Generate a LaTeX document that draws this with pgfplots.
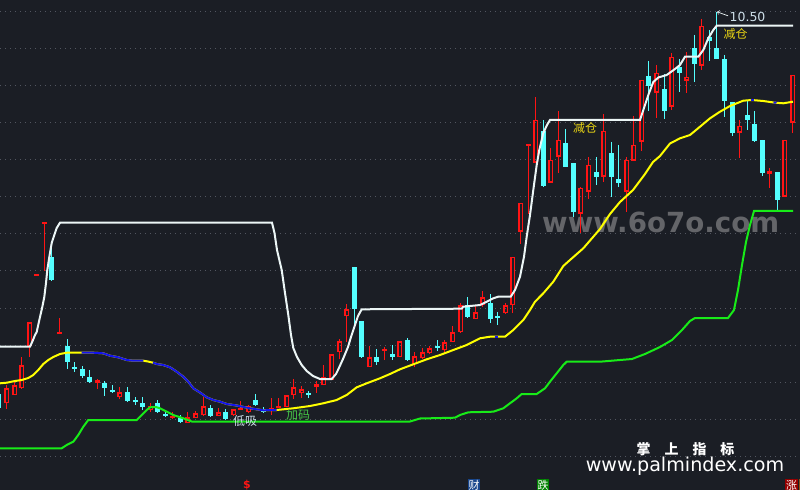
\documentclass[border=0pt]{standalone}
\usepackage{fontspec}
\setmainfont{DejaVu Sans}
\newfontfamily\cjk{Noto Sans CJK SC}
\usepackage{pgfplots}
\pgfplotsset{compat=1.18}
\usepackage{pgfplotstable}

\definecolor{chartbg}{RGB}{27,30,37}
\definecolor{cred}{RGB}{255,20,20}
\definecolor{ccyan}{RGB}{84,255,255}
\definecolor{cwhite}{RGB}{236,246,246}
\definecolor{cyellow}{RGB}{255,255,0}
\definecolor{cblue}{RGB}{20,20,235}
\definecolor{cgreen}{RGB}{24,235,24}
\definecolor{gridc}{RGB}{82,86,96}
\definecolor{wm}{RGB}{100,101,105}
\definecolor{txty}{RGB}{232,212,20}
\definecolor{txtg}{RGB}{70,200,70}
\definecolor{txtw}{RGB}{205,222,232}
\definecolor{boxblue}{RGB}{24,70,140}
\definecolor{boxgreen}{RGB}{0,130,0}
\definecolor{boxred}{RGB}{150,0,0}
\definecolor{boxbrown}{RGB}{140,80,20}

% up candles (hollow red): x, body top, body bottom, high, low (pixel rows)
\pgfplotstableread{
x bt bb h l
6.5 388 403 385 409
14.5 385 395 380 395
21.5 365 388 357 389
29.5 322 346 322 357
36.5 275 276 275 276
44.5 223 224 223 271
59.5 332 333 318 333
97.5 380 383 379 389
119.5 392 397 387 399
150.5 406 410 403 412
172.5 416 417 412 419
187.5 417 423 412 423
195.5 413 418 411 418
203.5 406 415 397 416
218.5 412 416 408 416
233.5 409 415 409 416
240.5 408 409 401 409
248.5 406 412 405 413
271.5 408 411 398 415
278.5 406 407 398 407
286.5 395 407 395 407
293.5 387 395 379 399
301.5 389 393 386 398
316.5 384 387 381 393
323.5 377 385 365 385
331.5 354 380 354 380
339.5 341 352 339 359
346.5 309 316 304 342
369.5 357 367 346 367
384.5 349 350 347 360
399.5 341 357 341 357
414.5 356 364 352 367
422.5 352 358 348 359
429.5 348 353 346 354
444.5 342 350 340 352
452.5 332 342 326 342
460.5 305 332 303 333
475.5 312 319 305 319
482.5 297 305 291 307
505.5 305 313 303 314
512.5 257 305 257 313
520.5 203 232 203 244
528.5 145 146 145 214
535.5 120 163 97 163
550.5 160 183 148 183
558.5 140 157 111 173
580.5 188 214 187 233
588.5 165 192 157 199
603.5 131 177 114 182
626.5 160 192 157 212
633.5 145 161 116 161
641.5 80 142 80 151
656.5 73 93 65 118
671.5 57 107 53 110
686.5 77 81 52 93
701.5 26 66 19 70
739.5 126 133 120 158
769.5 171 174 168 188
784.5 140 197 140 197
792.5 75 123 75 133
}\redtab

% down candles (filled cyan)
\pgfplotstableread{
x bt bb h l
-1.5 394 408 392 410
51.5 257 280 242 281
67.5 346 362 339 369
74.5 367 369 362 372
82.5 369 376 366 378
89.5 377 382 370 383
104.5 383 388 381 396
112.5 390 391 385 393
127.5 392 401 387 402
135.5 400 402 397 405
142.5 403 407 397 410
157.5 403 412 400 413
165.5 414 416 411 417
180.5 418 422 415 423
210.5 408 416 405 417
225.5 412 419 409 420
255.5 400 405 394 406
263.5 409 412 407 413
308.5 393 394 391 398
354.5 267 309 267 325
361.5 321 357 321 358
376.5 357 362 349 365
392.5 354 357 345 360
407.5 340 360 338 361
437.5 346 347 340 351
467.5 305 317 297 318
490.5 303 319 294 323
497.5 316 317 312 325
543.5 131 186 120 187
565.5 143 167 129 167
573.5 163 212 163 217
596.5 172 177 157 185
611.5 153 177 142 197
618.5 179 183 145 187
648.5 76 86 61 111
664.5 89 111 74 119
679.5 67 73 59 92
694.5 48 64 35 82
709.5 37 41 30 61
716.5 48 59 12 59
724.5 59 101 55 117
732.5 102 133 102 136
747.5 115 120 100 130
754.5 124 141 111 142
762.5 140 173 140 176
777.5 172 200 172 210
}\cyantab

\pgfplotsset{
  vbar/.style 2 args={draw=none, error bars/.cd, y dir=both, y explicit, error mark=none,
    error bar style={draw=#1, line width=#2}},
  hbar/.style 2 args={draw=none, error bars/.cd, x dir=both, x explicit, error mark=none,
    error bar style={draw=#1, line width=#2}},
}

\begin{document}
\begin{tikzpicture}
\begin{axis}[
  scale only axis, width=800bp, height=490bp,
  xmin=0, xmax=800, ymin=0, ymax=490, y dir=reverse,
  axis line style={draw=none},
  xtick=\empty,
  ytick={11.3,48.4,85.5,122.5,159.6,196.7,233.8,270.9,308,345,382.1,419.2,456.3},
  yticklabels={},
  tick style={draw=none},
  ymajorgrids,
  major grid style={gridc, line width=1bp, dash pattern=on 1bp off 4bp},
  axis background/.style={fill=chartbg},
]
% watermark
\node[anchor=base west, inner sep=0pt, text=wm, font=\fontsize{27.8}{28}\selectfont\bfseries] at (axis cs:542,233) {www.6o7o.com};

% red upper and lower wicks
\addplot[vbar={cred}{1.1bp}] table[x=x, y=h, y error plus expr={\thisrow{bt}-\thisrow{h}}, y error minus expr={0}] \redtab;
\addplot[vbar={cred}{1.1bp}] table[x=x, y=bb, y error plus expr={\thisrow{l}-\thisrow{bb}}, y error minus expr={0}] \redtab;
% red hollow bodies: left, right, top, bottom edges
\addplot[vbar={cred}{1.5bp}] table[x expr={\thisrow{x}-1.75}, y=bt, y error plus expr={\thisrow{bb}-\thisrow{bt}}, y error minus expr={0}] \redtab;
\addplot[vbar={cred}{1.5bp}] table[x expr={\thisrow{x}+1.75}, y=bt, y error plus expr={\thisrow{bb}-\thisrow{bt}}, y error minus expr={0}] \redtab;
\addplot[hbar={cred}{1.5bp}] table[x=x, y expr={\thisrow{bt}+0.75}, x error expr={2.5}] \redtab;
\addplot[hbar={cred}{1.5bp}] table[x=x, y expr={\thisrow{bb}-0.75}, x error expr={2.5}] \redtab;

% cyan wicks
\addplot[vbar={ccyan}{1.1bp}] table[x=x, y=h, y error plus expr={\thisrow{l}-\thisrow{h}}, y error minus expr={0}] \cyantab;
% cyan bodies
\addplot[vbar={ccyan}{5bp}]
  table[x=x, y expr={(\thisrow{bt}+\thisrow{bb})/2}, y error expr={(\thisrow{bb}-\thisrow{bt})/2}] \cyantab;

% green support line
\addplot[cgreen, line width=2bp] coordinates {
(0,448.3) (61.7,448.3) (66.7,445) (73.3,441.7) (78.3,435) (83.3,426.7) (88.3,420) (136.7,420)
(141.7,415) (146.7,410) (150,407.3) (156,407) (160,408.3) (166.7,411.7) (173.3,415) (183.3,418.3)
(191.7,421.5) (410,421.5) (420,418.5) (455,417.7) (460,415) (468.3,412.3) (493.3,411.7) (503.3,408.3)
(510,403.3) (516.7,398.3) (521.7,394) (536.7,394) (545,388.3) (550,381.7) (556.7,373.3) (563.3,365)
(566.7,361.7) (600,361.7) (632,359) (645,354) (660,347) (672,340) (682,330) (690,321) (695,318)
(728,318) (734,310) (738,290) (742,265) (746,242) (750,225) (754,211) (793,211)};

% white resistance line
\addplot[cwhite, line width=2bp] coordinates {
(0,346.7) (30,346.7) (31.7,343) (33,340) (35,335) (36.7,332) (38,326) (40,317) (42.3,307) (44.3,297)
(46,283) (47.3,270) (49.3,257) (51.7,243) (54.3,235) (56.7,228) (60,222.7) (272,222.7) (274.5,233)
(277,250) (281.7,270) (285,293) (288.3,315) (291,335) (293.3,348) (297,357) (301.7,365) (306.7,371)
(313,376) (320,379) (331.7,379) (336,374) (338,370) (343,359) (348,347) (351,337) (355,325) (358,316)
(361.7,309.3) (461.7,308.7) (463.3,306.7) (480,305) (486.7,301.7) (493.3,298.3) (498.3,296.7)
(510.7,296.7) (515,290) (520,276.7) (524,256.7) (526.7,236.7) (530,215) (533.3,190) (536.7,165)
(539.3,150) (543.3,133) (547,125) (550,120) (640,120) (645,105) (648.3,95) (653.3,82) (658.3,77.5)
(666.7,75) (675,69) (680,65) (685,56.7) (698.3,56.7) (703.3,50) (708.3,38.3) (713.3,30) (716.7,25.7)
(793,25.7)};

% moving average (yellow with blue stretches)
\addplot[cyellow, line width=2bp] coordinates {
(0,383.3) (6.7,382.7) (15,381) (21.7,380) (28.3,378) (33.3,375) (38.3,370) (43.3,364) (48.3,360)
(53.3,357) (60,354) (66.7,352.7) (81.7,352.7) (93.3,352.7) (103.3,353.3) (110,355.7) (118.3,357.3)
(126.7,360) (133.3,360.7) (143.3,360.7) (148,361.5) (153,362.7) (156.7,364) (163.3,365) (170,367.3)
(176.7,371.7) (183.3,376.7) (188.3,381.7) (193.3,388.3) (200,392.5) (206.7,397.3) (213.3,400)
(220,401.7) (226.7,404) (236.7,405.5) (250,408.3) (263.3,410.3) (276.7,410) (293.3,408.3) (310,406)
(323.3,403.3) (336.7,400) (346.7,395) (356.7,387.3) (366.7,383.3) (380,378.3) (390,374) (400,369.3)
(413.3,364.3) (426.7,359.3) (440,355) (453.3,350) (466.7,345) (480,338.3) (490,336.7) (505,336.7)
(513.3,330) (523.3,320) (530,310) (535,301.7) (543.3,293.3) (553.3,281.7) (563.3,266) (570,260)
(583.3,248.3) (600,229) (610,214) (620,202) (633,190) (645,174) (653,162) (660,156) (670,143.5)
(680,138.3) (690,135) (700,126.7) (710,118.3) (720,111.7) (730,106) (743.3,100.7) (751.7,100)
(763.3,101) (775,102.7) (783.3,103.3) (793,101.7)};
\addplot[cblue, line width=2bp] coordinates {
(81.7,352.7) (93.3,352.7) (103.3,353.3) (110,355.7) (118.3,357.3) (126.7,360) (133.3,360.7) (143.3,360.7)};
\addplot[cblue, line width=2bp] coordinates {
(153,362.7) (156.7,364) (163.3,365) (170,367.3) (176.7,371.7) (183.3,376.7) (188.3,381.7) (193.3,388.3)
(200,392.5) (206.7,397.3) (213.3,400) (220,401.7) (226.7,404) (236.7,405.5) (250,408.3) (263.3,410.3)
(276.7,410)};
\addplot[cblue, line width=2bp] coordinates {(494.5,336.7) (497.5,336.7)};
\addplot[cblue, line width=2bp] coordinates {(750.5,100) (753.5,100)};
\addplot[cblue, line width=2bp] coordinates {(773.5,102.5) (776.5,102.7)};

% annotations
\draw[cwhite, line width=0.7bp, ->] (axis cs:728,15.8) -- (axis cs:717,11.8);
\node[anchor=base west, inner sep=0pt, text=txtw, font=\fontsize{12.5}{12.5}\selectfont] at (axis cs:729.5,22) {10.50};
\node[inner sep=0pt, text=txty, font=\cjk\fontsize{12}{12}\selectfont] at (axis cs:735.5,33.5) {减仓};
\node[inner sep=0pt, text=txty, font=\cjk\fontsize{12}{12}\selectfont] at (axis cs:585,127.5) {减仓};
\node[inner sep=0pt, text=txtw, font=\cjk\fontsize{12}{12}\selectfont] at (axis cs:245,421) {低吸};
\node[inner sep=0pt, text=txtg, font=\cjk\fontsize{12}{12}\selectfont] at (axis cs:298,415) {加码};

\node[inner sep=0pt, text=white, font=\cjk\fontsize{14}{14}\selectfont\bfseries] at (axis cs:685.5,449.5) {掌\hspace{14bp}上\hspace{14bp}指\hspace{14bp}标};
\node[anchor=base, inner sep=0pt, text=white, font=\fontsize{19.2}{19.2}\selectfont] at (axis cs:685,471) {www.palmindex.com};

\node[inner sep=0pt, text=cred, font=\fontsize{11}{11}\selectfont\bfseries] at (axis cs:247,485) {\$};
\node[inner sep=0.6bp, fill=boxblue, text=white, font=\cjk\fontsize{11}{11}\selectfont] at (axis cs:474,485) {财};
\node[inner sep=0.6bp, fill=boxgreen, text=white, font=\cjk\fontsize{11}{11}\selectfont] at (axis cs:543,485) {跌};
\node[inner sep=0.6bp, fill=boxred, text=white, font=\cjk\fontsize{11}{11}\selectfont] at (axis cs:791.5,485) {涨};
\fill[boxbrown] (axis cs:798.5,479) rectangle (axis cs:801,491);
\end{axis}
\pgfresetboundingbox
\path (current axis.south west) rectangle (current axis.north east);
\end{tikzpicture}
\end{document}
